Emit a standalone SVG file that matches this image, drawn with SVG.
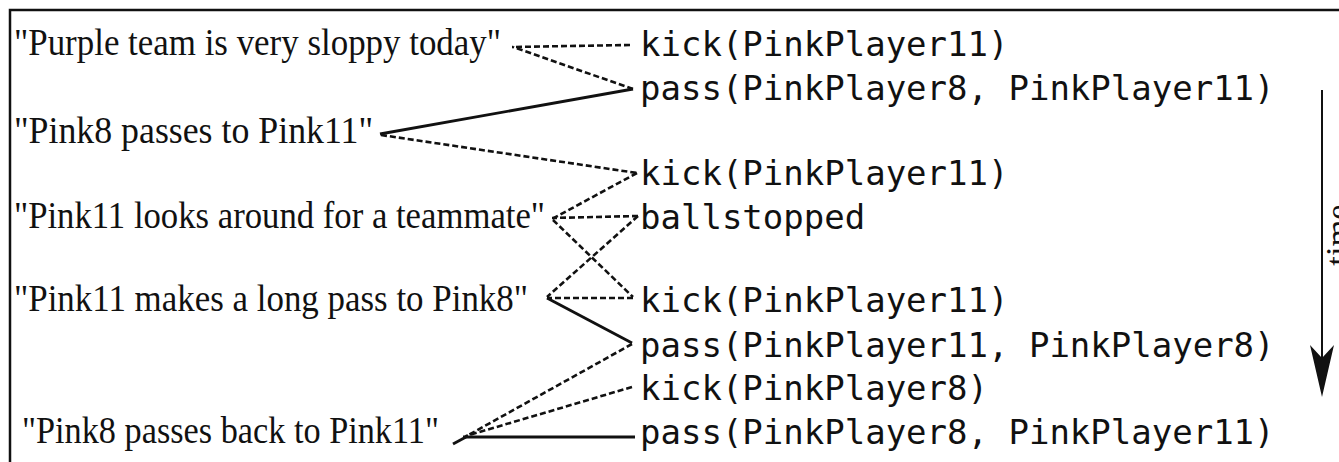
<svg xmlns="http://www.w3.org/2000/svg" width="1339" height="462" viewBox="0 0 1339 462">
<style>
.c{font-family:"Liberation Serif","Times New Roman",serif;font-size:37px;fill:#111}
.m{font-family:"DejaVu Sans Mono","Liberation Mono",monospace;font-size:34px;fill:#111}
.d{stroke:#111;stroke-width:2.6;stroke-dasharray:6 3;fill:none}
.s{stroke:#111;stroke-width:2.9;fill:none}
</style>
<rect x="0" y="0" width="1339" height="462" fill="#fff"/>
<rect id="frame" x="10" y="10" width="1400" height="500" fill="none" stroke="#111" stroke-width="2.5"/>
<g id="comments">
<g id="c1"><text class="c" x="14" y="55" textLength="487" lengthAdjust="spacingAndGlyphs">"Purple team is very sloppy today"</text></g>
<g id="c2"><text class="c" x="14" y="143" textLength="359" lengthAdjust="spacingAndGlyphs">"Pink8 passes to Pink11"</text></g>
<g id="c3"><text class="c" x="14" y="228" textLength="531" lengthAdjust="spacingAndGlyphs">"Pink11 looks around for a teammate"</text></g>
<g id="c4"><text class="c" x="14" y="311" textLength="514" lengthAdjust="spacingAndGlyphs">"Pink11 makes a long pass to Pink8"</text></g>
<g id="c5"><text class="c" x="22" y="443" textLength="417" lengthAdjust="spacingAndGlyphs">"Pink8 passes back to Pink11"</text></g>
</g>
<g id="events">
<g id="e1"><text class="m" x="640" y="56">kick(PinkPlayer11)</text></g>
<g id="e2"><text class="m" x="640" y="100">pass(PinkPlayer8, PinkPlayer11)</text></g>
<g id="e3"><text class="m" x="640" y="185">kick(PinkPlayer11)</text></g>
<g id="e4"><text class="m" x="640" y="229">ballstopped</text></g>
<g id="e5"><text class="m" x="640" y="312">kick(PinkPlayer11)</text></g>
<g id="e6"><text class="m" x="640" y="357">pass(PinkPlayer11, PinkPlayer8)</text></g>
<g id="e7"><text class="m" x="640" y="400">kick(PinkPlayer8)</text></g>
<g id="e8"><text class="m" x="640" y="444">pass(PinkPlayer8, PinkPlayer11)</text></g>
</g>
<g id="connectors">
<line class="d" x1="630" y1="45" x2="512" y2="47"/>
<line class="d" x1="633" y1="89" x2="513" y2="47"/>
<line class="s" x1="633" y1="89" x2="380" y2="134"/>
<line class="d" x1="381" y1="135" x2="637" y2="173"/>
<line class="d" x1="637" y1="173" x2="552" y2="219"/>
<line class="d" x1="638" y1="216" x2="552" y2="218"/>
<line class="d" x1="553" y1="220" x2="633" y2="297"/>
<line class="d" x1="638" y1="216" x2="547" y2="297"/>
<line class="d" x1="633" y1="298" x2="547" y2="298"/>
<line class="s" x1="547" y1="298" x2="632" y2="343"/>
<line class="d" x1="632" y1="344" x2="465" y2="437"/>
<line class="d" x1="632" y1="387" x2="466" y2="436"/>
<line class="s" x1="635" y1="437" x2="463" y2="437"/>
<line class="s" x1="466" y1="437" x2="453" y2="444" stroke-width="1.5"/>
</g>
<g id="time-axis">
<line x1="1322" y1="90" x2="1322" y2="360" stroke="#111" stroke-width="2"/>
<polygon points="1322,397 1310,345 1322,358 1334,345" fill="#111"/>
<text class="c" transform="translate(1349,235) rotate(-90)" text-anchor="middle" style="font-size:34.5px">time</text>
</g>
</svg>
